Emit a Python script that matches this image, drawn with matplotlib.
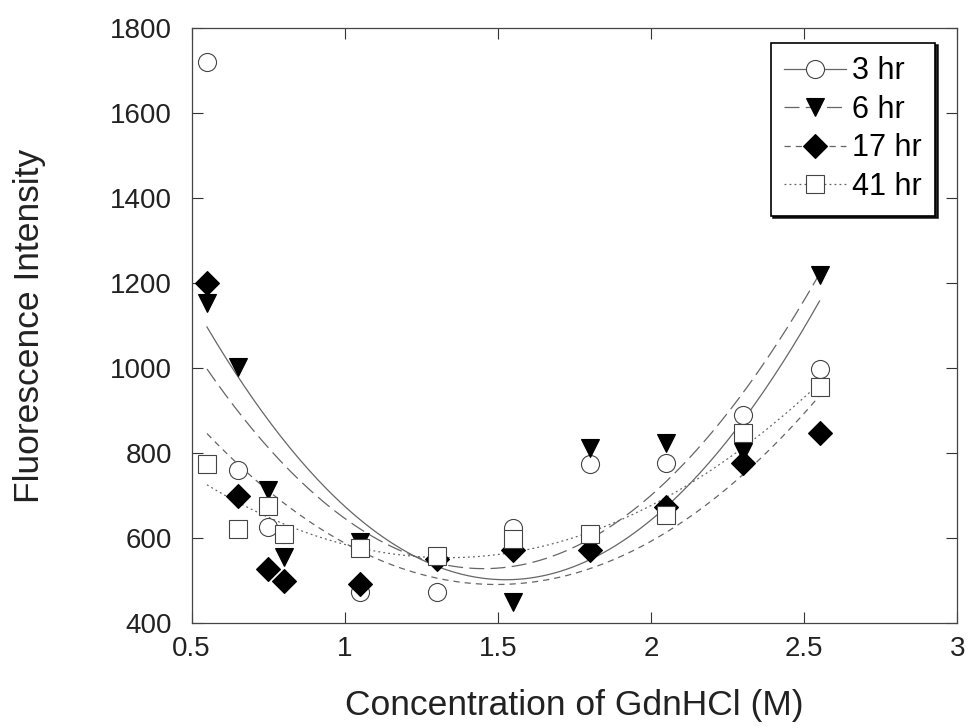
"""Fluorescence intensity vs GdnHCl concentration, 4 incubation times, quadratic fits."""
import numpy as np
import matplotlib

matplotlib.use("Agg")
import matplotlib.pyplot as plt

plt.rcParams["font.family"] = ["Liberation Sans", "DejaVu Sans"]

CONC = [0.55, 0.65, 0.75, 0.80, 1.05, 1.30, 1.55, 1.80, 2.05, 2.30, 2.55]
HR3 = [1720, 760, 626, 609, 473, 473, 624, 774, 776, 889, 998]
HR6 = [1153, 1002, 713, 555, 590, 555, 449, 812, 824, 802, 1219]
HR17 = [1200, 699, 527, 499, 492, 551, 572, 572, 673, 776, 847]
HR41 = [774, 621, 675, 609, 576, 558, 598, 609, 654, 847, 955]

SERIES = [
    ("3 hr", HR3, "o", "white", "-"),
    ("6 hr", HR6, "v", "black", (0, (12, 5))),
    ("17 hr", HR17, "D", "black", (0, (5, 4))),
    ("41 hr", HR41, "s", "white", (0, (1.5, 2.5))),
]

fig = plt.figure(figsize=(9.68, 7.28), dpi=100)
ax = fig.add_axes([0.198, 0.144, 0.791, 0.818])

xs = np.linspace(CONC[0], CONC[-1], 200)
for name, ys, mk, fc, ls in SERIES:
    coef = np.polyfit(CONC, ys, 2)
    ax.plot(xs, np.polyval(coef, xs), color="#666666", lw=0.9, ls=ls, zorder=1)
    ms = 12 if mk == "D" else 13
    ec = "#444444" if fc == "white" else "black"
    ax.plot(CONC, ys, ls="none", marker=mk, ms=ms, mfc=fc, mec=ec, mew=0.8, zorder=3)
    # legend proxy
    ax.plot([], [], color="#666666", lw=0.9, ls=ls, marker=mk, ms=ms, mfc=fc,
            mec=ec, mew=0.8, label=name)

ax.set_xlim(0.5, 3)
ax.set_ylim(400, 1800)
ax.set_xticks([0.5, 1, 1.5, 2, 2.5, 3])
ax.set_xticklabels(["0.5", "1", "1.5", "2", "2.5", "3"])
ax.set_yticks(range(400, 1801, 200))
ax.tick_params(direction="in", top=True, right=True, length=8, width=0.8,
               labelsize=20, colors="#333333", labelcolor="#222222")
ax.tick_params(axis="x", pad=9)
ax.tick_params(axis="y", pad=14)
ax.set_xlabel("Concentration of GdnHCl (M)", fontsize=25.5, labelpad=20, color="#222222")
ax.set_ylabel("Fluorescence Intensity", fontsize=25.5, labelpad=46, color="#222222")
for sp in ax.spines.values():
    sp.set_linewidth(0.9)
    sp.set_color("#444444")

leg = ax.legend(loc="upper right", bbox_to_anchor=(0.971, 0.975), fontsize=22,
                frameon=True, fancybox=False,
                shadow={"color": "black", "alpha": 0.85},
                edgecolor="black", framealpha=1,
                handlelength=2.0, handletextpad=0.2, labelspacing=0.28,
                borderpad=0.45, borderaxespad=0)
leg.get_frame().set_linewidth(1.2)

fig.savefig("out.png", dpi=100)
